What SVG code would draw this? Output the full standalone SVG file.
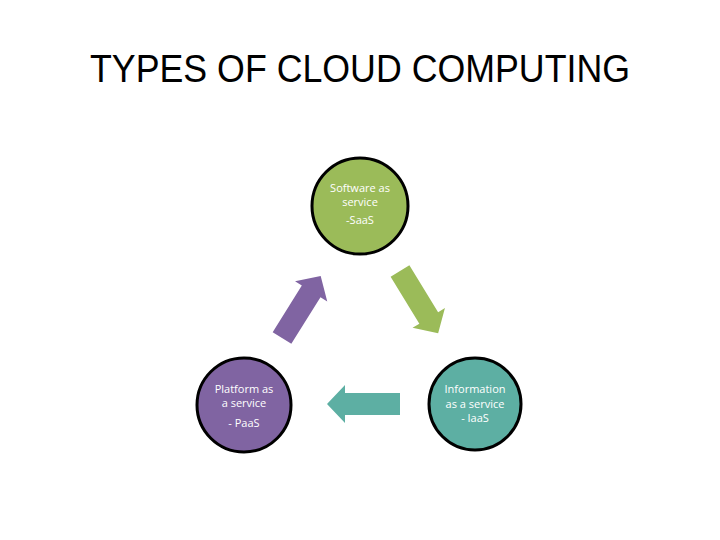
<svg xmlns="http://www.w3.org/2000/svg" width="720" height="540" viewBox="0 0 720 540">
<style>
.t{font-family:"Liberation Sans",Arial,sans-serif;fill:#000}
.n{font-family:"Open Sans","Liberation Sans",sans-serif;font-size:11px;fill:#fff;text-anchor:middle}
.c{stroke:#000;stroke-width:3}
</style>
<defs><polygon id="arr" points="0,-11 55,-11 55,-19 73,0 55,19 55,11 0,11"/></defs>
<rect width="720" height="540" fill="#fff"/>
<text class="t" x="360" y="82" font-size="38" text-anchor="middle" textLength="540" lengthAdjust="spacingAndGlyphs">TYPES OF CLOUD COMPUTING</text>
<g id="connectors">
<use href="#arr" fill="#9BBB59" transform="translate(400,271) rotate(58.5)"/>
<use href="#arr" fill="#5DAFA3" transform="translate(400,404) rotate(180)"/>
<use href="#arr" fill="#8064A2" transform="translate(282,338) rotate(-58)"/>
</g>
<g id="saas"><circle class="c" cx="360" cy="206" r="48" fill="#9BBB59"/>
<text class="n" x="360" y="192">Software as</text><text class="n" x="360" y="206">service</text><text class="n" x="360" y="224">-SaaS</text></g>
<g id="paas"><circle class="c" cx="244" cy="405" r="47" fill="#8064A2"/>
<text class="n" x="244" y="393">Platform as</text><text class="n" x="244" y="407">a service</text><text class="n" x="244" y="427">- PaaS</text></g>
<g id="iaas"><circle class="c" cx="475" cy="404" r="46" fill="#5DAFA3"/>
<text class="n" x="475" y="393">Information</text><text class="n" x="475" y="408">as a service</text><text class="n" x="475" y="422">- IaaS</text></g>
</svg>
